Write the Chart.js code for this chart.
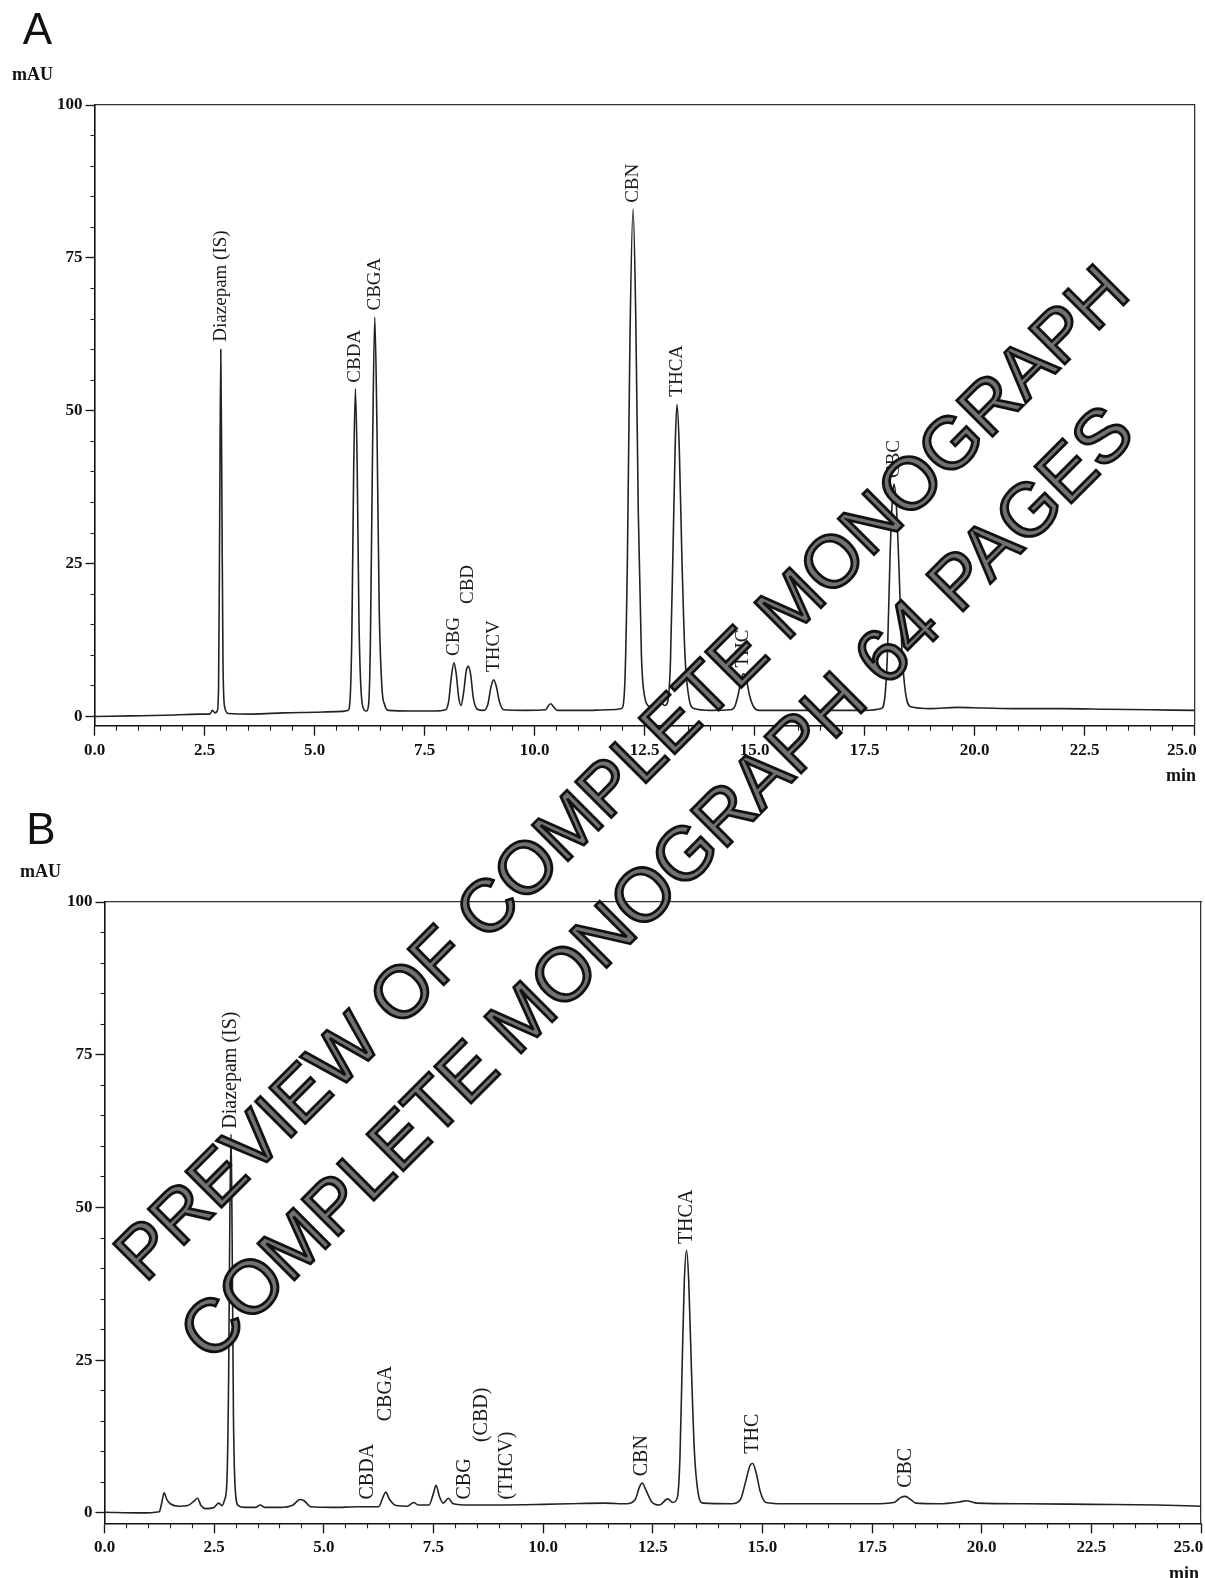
<!DOCTYPE html>
<html><head><meta charset="utf-8">
<script src="https://cdn.jsdelivr.net/npm/chart.js@4.4.0/dist/chart.umd.min.js"></script>
<style>
html,body{margin:0;padding:0;background:#fff;}
body{width:1205px;height:1578px;position:relative;overflow:hidden;}
.panel{position:absolute;left:0;width:1205px;}
.txt{position:absolute;transform:translate(-50%,-50%);white-space:nowrap;line-height:1;color:#111;}
.panelLetter{font-family:'Liberation Sans',Arial,sans-serif;font-size:44px;}
.unit{font-family:'Liberation Serif',serif;font-size:18px;font-weight:bold;}
.wm{position:absolute;transform:translate(-50%,-50%) rotate(-45deg);white-space:nowrap;line-height:1;
  font-family:'Liberation Sans',Arial,sans-serif;color:#727272;-webkit-text-stroke:2.8px #111;pointer-events:none;}
</style></head>
<body>
<div class="panel" style="top:0;height:790px"><canvas id="chartA"></canvas></div>
<div class="panel" style="top:790px;height:788px"><canvas id="chartB"></canvas></div>
<div class="txt panelLetter" style="left:37.5px;top:29px">A</div>
<div class="txt unit" style="left:32.5px;top:73.5px">mAU</div>
<div class="txt unit" style="left:1181px;top:775px">min</div>
<div class="txt panelLetter" style="left:41px;top:829px">B</div>
<div class="txt unit" style="left:40.5px;top:871px">mAU</div>
<div class="txt unit" style="left:1184px;top:1573px">min</div>
<div class="wm" style="left:620.5px;top:771.8px;font-size:73.5px">PREVIEW OF COMPLETE MONOGRAPH</div>
<div class="wm" style="left:656px;top:882px;font-size:75px">COMPLETE MONOGRAPH 64 PAGES</div>
<script>
// ---------- data: panel A trace (retention time, min / absorbance, mAU) ----------
const timeA = [0.00,0.80,1.60,2.40,2.62,2.68,2.74,2.79,2.82,2.845,2.87,2.895,2.92,2.96,3.04,3.60,4.30,5.00,5.50,5.76,
  5.81,5.85,5.89,5.93,5.97,6.01,6.06,6.13,6.18,6.23,6.27,6.32,6.37,6.42,6.47,6.53,6.60,6.68,7.20,7.70,
  7.98,8.05,8.11,8.17,8.22,8.28,8.33,8.39,8.45,8.50,8.55,8.61,8.70,8.85,8.94,9.01,9.07,9.13,9.20,9.30,
  9.80,10.25,10.32,10.37,10.43,10.52,11.10,11.70,11.98,12.05,12.11,12.17,12.24,12.30,12.36,12.43,12.51,12.62,12.75,12.86,
  12.96,13.03,13.09,13.15,13.20,13.24,13.29,13.35,13.42,13.50,13.62,14.00,14.45,14.55,14.63,14.70,14.75,14.81,14.89,14.98,
  15.10,15.90,16.80,17.50,17.88,17.96,18.02,18.08,18.13,18.17,18.22,18.28,18.35,18.43,18.55,19.00,19.60,20.20,21.00,22.00,
  23.00,24.00,25.00];
const signalA = [0.0,0.1,0.2,0.4,0.4,1.0,0.6,0.9,5,32,60,36,9,1.5,0.5,0.4,0.6,0.7,0.8,1.0,
  3,14,40,53.6,41,16,4,1.1,0.9,2,12,44,65.3,47,18,5,1.8,1.0,0.9,0.9,
  1.1,2.5,6.5,8.8,7,3,1.8,4,7.5,8.2,6.8,3,1.2,1.0,2,4.8,6.0,5,2.5,1.1,
  1.0,1.1,1.8,2.1,1.6,1.0,1.0,1.1,1.3,5,25,62,83,66,33,10,3,1.6,1.4,2.4,
  1.8,2.5,9,28,45,51,44,26,10,3.5,1.3,1.0,1.1,1.6,3.6,6.2,7,6.2,3.4,1.6,
  1.0,1.0,1.0,1.0,1.3,3,10,26,35,38,35,25,11,4,1.6,1.3,1.5,1.4,1.3,1.3,
  1.2,1.1,1.0];

// ---------- data: panel B trace ----------
const timeB = [0.00,0.80,1.25,1.30,1.36,1.42,1.50,1.70,1.90,2.05,2.12,2.20,2.30,2.50,2.60,2.68,2.74,2.79,2.83,2.86,
  2.885,2.91,2.94,2.98,3.05,3.20,3.45,3.55,3.65,4.00,4.30,4.45,4.55,4.70,5.20,5.80,6.25,6.35,6.41,6.50,
  6.65,6.90,7.05,7.15,7.40,7.50,7.56,7.64,7.72,7.84,7.95,8.30,9.00,10.00,10.60,11.40,11.90,12.10,12.20,12.26,
  12.34,12.48,12.65,12.84,12.96,13.06,13.12,13.17,13.22,13.27,13.32,13.38,13.45,13.53,13.65,14.30,14.50,14.62,14.72,14.78,
  14.86,14.95,15.08,15.50,16.50,17.50,18.00,18.15,18.26,18.38,18.50,19.00,19.50,19.65,19.90,21.00,22.50,24.00,25.00];
const signalB = [0.1,0.0,0.2,1.5,3.3,2.2,1.5,1.1,1.2,2.0,2.4,1.2,0.7,0.9,1.6,1.2,2.2,5,22,50,
  62,45,16,4,1.2,0.9,0.9,1.3,0.9,0.9,1.3,2.2,2.0,1.0,0.9,1.0,1.0,2.6,3.4,2.2,
  1.2,1.1,1.7,1.3,1.3,3.2,4.5,2.6,1.6,2.4,1.5,1.3,1.3,1.4,1.5,1.6,1.5,2.2,4.3,4.9,
  3.8,1.8,1.3,2.3,1.7,2.5,9,24,38,43,38,24,10,3.5,1.6,1.5,2.2,5.2,7.8,8.1,
  6.5,3.5,1.7,1.5,1.5,1.5,1.7,2.5,2.7,2.2,1.6,1.5,1.8,2.0,1.6,1.5,1.4,1.3,1.1];

// ---------- peaks ----------
const peakNamesA = ['Diazepam (IS)','CBDA','CBGA','CBG','CBD','THCV','CBN','THCA','THC','CBC'];
const peakTimesA = [2.87,5.93,6.37,8.17,8.50,9.07,12.24,13.24,14.75,18.17];
const peakHeightsA = [60,53.6,65.3,8.8,8.2,6.0,83,51,7,38];

const peakNamesB = ['Diazepam (IS)','CBDA','CBGA','CBG','(CBD)','(THCV)','CBN','THCA','THC','CBC'];
const peakTimesB = [2.885,6.00,6.41,8.22,8.59,9.18,12.26,13.27,14.78,18.26];
const peakHeightsB = [62,1.0,3.4,1.3,1.3,1.3,4.9,43,8.1,2.7];

// ---------- axis ticks ----------
const xMajorStep = 2.5, xMinorStep = 0.5;
const yMajorStep = 25, yMinorStep = 5;
const xRange = [0, 25];
const yMaxValue = 100;

// ---------- layout / placement (not data) ----------
const labelStartA = [61.3, 54.6, 66.4, 9.9, 18.4, 7.3, 84.0, 52.3, 8.0, 39.0];
const labelStartB = [62.9, 2.2, 15.0, 2.2, 11.6, 2.2, 6.0, 44.0, 9.7, 4.1];
const geomA = {top:105, right:10.5, yWidth:94.5, xHeight:64.3, yMin:-1.5, xPad:5, labelSize:19};
const geomB = {top:112, right:4, yWidth:104.5, xHeight:54.7, yMin:-1.7, xPad:4, labelSize:20};

Chart.defaults.font.family = "'Liberation Serif', 'Times New Roman', serif";
Chart.defaults.color = '#111';

const peakLabelPlugin = {
  id: 'peakLabels',
  afterDatasetsDraw(chart, args, opts) {
    const ctx = chart.ctx, xs = chart.scales.x, ys = chart.scales.y;
    ctx.save();
    ctx.font = opts.size + "px 'Liberation Serif', serif";
    ctx.fillStyle = '#1a1a1a';
    ctx.textAlign = 'left';
    ctx.textBaseline = 'middle';
    opts.names.forEach((name, i) => {
      const px = xs.getPixelForValue(opts.times[i]);
      const py = ys.getPixelForValue(Math.max(opts.heights[i], opts.starts[i]));
      ctx.save();
      ctx.translate(px, py);
      ctx.rotate(-Math.PI / 2);
      ctx.fillText(name, 0, 0);
      ctx.restore();
    });
    ctx.restore();
  }
};

function makeChart(id, times, values, names, ptimes, pheights, starts, g) {
  const tickFont = {family:"'Liberation Serif', serif", size:17, weight:'bold'};
  const noPad = s => { s.paddingLeft = 0; s.paddingRight = 0; s.paddingTop = 0; s.paddingBottom = 0; };
  return new Chart(document.getElementById(id), {
    type: 'line',
    data: { datasets: [{
      data: times.map((t, i) => ({x: t, y: values[i]})),
      borderColor: '#222', borderWidth: 1.6, pointRadius: 0, fill: false,
      cubicInterpolationMode: 'monotone', xAxisID: 'x', yAxisID: 'y'
    }]},
    plugins: [peakLabelPlugin],
    options: {
      responsive: true, maintainAspectRatio: false, animation: false, devicePixelRatio: 1,
      events: [],
      layout: { padding: { top: g.top, right: g.right, left: 0, bottom: 0 } },
      plugins: {
        legend: {display: false}, tooltip: {enabled: false},
        peakLabels: { names: names, times: ptimes, heights: pheights, starts: starts, size: g.labelSize }
      },
      scales: {
        x: {
          type: 'linear', position: 'bottom', weight: 1, min: xRange[0], max: xRange[1],
          ticks: { stepSize: xMajorStep, includeBounds: false, autoSkip: false, maxRotation: 0, padding: g.xPad,
                   font: tickFont, color: '#111',
                   callback: v => v === xRange[1] ? v.toFixed(1) + '\u2007\u2007\u2007' : v.toFixed(1) },
          grid: { drawOnChartArea: false, tickLength: 10, tickColor: '#111', tickWidth: 1.3 },
          border: { color: '#111', width: 1.6 },
          afterFit: s => { s.height = g.xHeight; noPad(s); }
        },
        xMinor: {
          type: 'linear', position: 'bottom', weight: 0, min: xRange[0], max: xRange[1],
          ticks: { stepSize: xMinorStep, includeBounds: false, autoSkip: false, display: false },
          grid: { drawOnChartArea: false, tickLength: 5, tickColor: '#222', tickWidth: 1.1 },
          border: { display: false },
          afterFit: s => { s.height = 0; noPad(s); }
        },
        xTop: {
          type: 'linear', position: 'top', min: xRange[0], max: xRange[1],
          ticks: { display: false }, grid: { display: false },
          border: { color: '#333', width: 1.3 },
          afterFit: s => { s.height = 0; noPad(s); }
        },
        y: {
          type: 'linear', position: 'left', weight: 1, min: g.yMin, max: yMaxValue,
          ticks: { stepSize: yMajorStep, includeBounds: false, autoSkip: false, padding: 3, font: tickFont, color: '#111' },
          grid: { drawOnChartArea: false, tickLength: 9, tickColor: '#111', tickWidth: 1.3 },
          border: { color: '#111', width: 1.6 },
          afterFit: s => { s.width = g.yWidth; noPad(s); }
        },
        yMinor: {
          type: 'linear', position: 'left', weight: 0, min: g.yMin, max: yMaxValue,
          ticks: { stepSize: yMinorStep, includeBounds: false, autoSkip: false, display: false },
          grid: { drawOnChartArea: false, tickLength: 4, tickColor: '#222', tickWidth: 1.1 },
          border: { display: false },
          afterFit: s => { s.width = 0; noPad(s); }
        },
        yRight: {
          type: 'linear', position: 'right', min: g.yMin, max: yMaxValue,
          ticks: { display: false }, grid: { display: false },
          border: { color: '#333', width: 1.3 },
          afterFit: s => { s.width = 0; noPad(s); }
        }
      }
    }
  });
}

makeChart('chartA', timeA, signalA, peakNamesA, peakTimesA, peakHeightsA, labelStartA, geomA);
makeChart('chartB', timeB, signalB, peakNamesB, peakTimesB, peakHeightsB, labelStartB, geomB);
</script>
</body></html>
